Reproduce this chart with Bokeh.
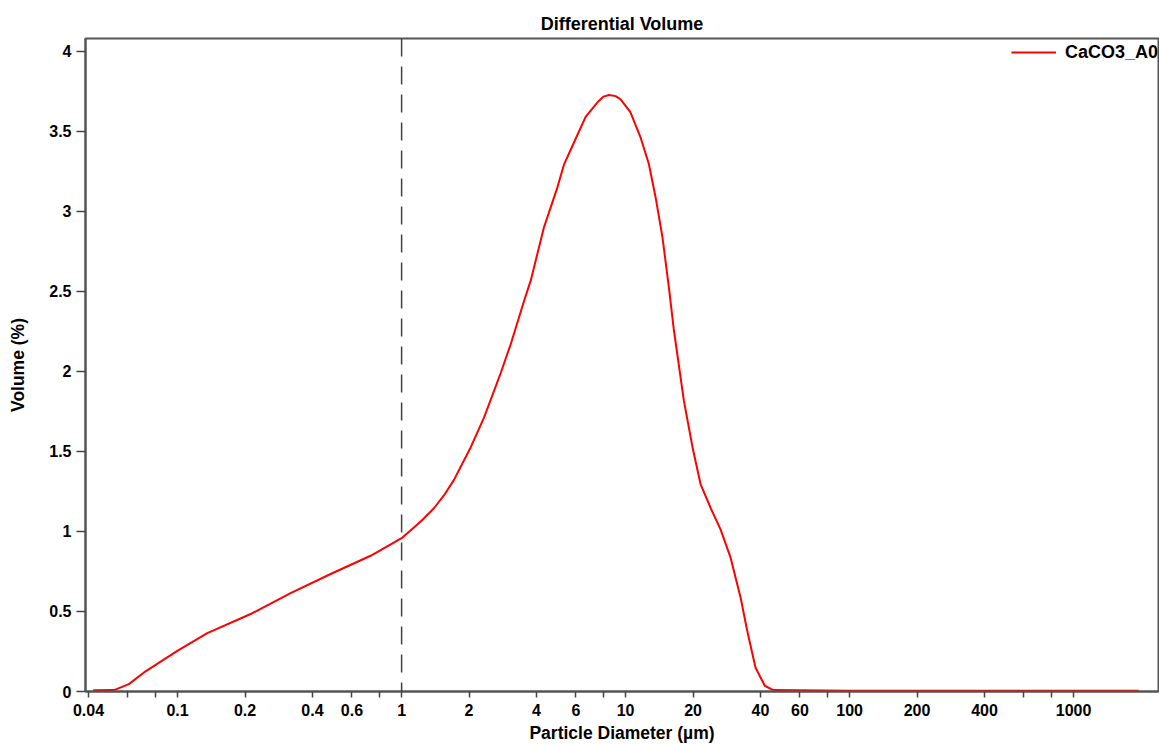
from bokeh.plotting import figure
from bokeh.models import FixedTicker, Span, Legend, LegendItem, Range1d
from bokeh.embed import file_html
from bokeh.resources import INLINE

# Data
diameter_um = [0.042, 0.052, 0.0606, 0.0708, 0.0997, 0.1357, 0.2118, 0.3195, 0.482,
               0.727, 1.0, 1.135, 1.25, 1.394, 1.545, 1.713, 2.033, 2.33, 2.77, 3.07, 3.52,
               3.77, 4.32, 4.96, 5.30, 5.88, 6.63, 7.47, 7.97, 8.43, 9.03, 9.5, 10.5, 11.67,
               12.7, 13.6, 14.6, 15.6, 16.4, 18.2, 19.9, 21.6, 23.9, 26.5, 29.4, 32.6, 34.9,
               38.0, 41.8, 45.6, 100.0, 1000.0, 1950.0]
volume_pct = [0.008, 0.009, 0.046, 0.119, 0.254, 0.365, 0.484, 0.615, 0.734,
              0.848, 0.958, 1.025, 1.078, 1.145, 1.225, 1.322, 1.525, 1.71, 1.99, 2.17, 2.44,
              2.567, 2.9, 3.15, 3.29, 3.43, 3.59, 3.68, 3.717, 3.727, 3.72, 3.70, 3.62, 3.46,
              3.296, 3.09, 2.84, 2.525, 2.265, 1.817, 1.525, 1.296, 1.15, 1.015, 0.8375, 0.5875,
              0.38, 0.15, 0.036, 0.009, 0.005, 0.005, 0.005]
series_name = "CaCO3_A0"

x_ticks = [0.04, 0.06, 0.08, 0.1, 0.2, 0.4, 0.6, 0.8, 1, 2, 4, 6, 8, 10, 20, 40, 60, 80,
           100, 200, 400, 600, 800, 1000]
x_tick_labels = ["0.04", "", "", "0.1", "0.2", "0.4", "0.6", "", "1", "2", "4", "6", "",
                 "10", "20", "40", "60", "", "100", "200", "400", "", "", "1000"]
y_ticks = [0, 0.5, 1, 1.5, 2, 2.5, 3, 3.5, 4]
y_tick_labels = ["0", "0.5", "1", "1.5", "2", "2.5", "3", "3.5", "4"]
marker_x = 1.0

FONT = "Liberation Sans"

p = figure(width=1159, height=745, x_axis_type="log",
           x_range=Range1d(0.0388, 2393), y_range=Range1d(0, 4.08),
           output_backend="svg", toolbar_location=None,
           title="Differential Volume",
           min_border_left=85, min_border_right=1, min_border_top=38, min_border_bottom=54)

p.title.align = "center"
p.title.text_font = FONT
p.title.text_font_size = "18px"
p.title.text_font_style = "bold"
p.title.text_color = "black"
p.title.standoff = 10

p.xgrid.visible = False
p.ygrid.visible = False
p.outline_line_color = "#555555"
p.outline_line_width = 2

for ax in (p.xaxis[0], p.yaxis[0]):
    ax.axis_line_color = "#555555"
    ax.axis_line_width = 2
    ax.major_tick_line_color = "#444444"
    ax.major_tick_line_width = 1.5
    ax.major_tick_in = 0
    ax.minor_tick_line_color = None
    ax.major_label_text_font = FONT
    ax.major_label_text_font_size = "16px"
    ax.major_label_text_font_style = "bold"
    ax.major_label_text_color = "black"
    ax.axis_label_text_font = FONT
    ax.axis_label_text_font_size = "17.5px"
    ax.axis_label_text_font_style = "bold"
    ax.axis_label_text_color = "black"

p.xaxis.ticker = FixedTicker(ticks=x_ticks)
p.xaxis.major_label_overrides = {t: lab for t, lab in zip(x_ticks, x_tick_labels)}
p.xaxis.major_tick_out = 6
p.xaxis.major_label_standoff = 6
p.xaxis.axis_label = "Particle Diameter (µm)"
p.xaxis.axis_label_standoff = 4

p.yaxis.ticker = FixedTicker(ticks=y_ticks)
p.yaxis.major_label_overrides = {t: lab for t, lab in zip(y_ticks, y_tick_labels)}
p.yaxis.major_tick_out = 9
p.yaxis.major_label_standoff = 5
p.yaxis.axis_label = "Volume (%)"
p.yaxis.axis_label_standoff = 18

vline = Span(location=marker_x, dimension="height", line_color="#404040",
             line_width=1.5, line_dash="18 10")
p.add_layout(vline)

r = p.line(diameter_um, volume_pct, line_color="#ff0000", line_width=2)

legend = Legend(items=[LegendItem(label=series_name, renderers=[r])],
                location="top_right", border_line_color=None,
                background_fill_alpha=0, margin=0, padding=0,
                glyph_width=45, glyph_height=28, label_height=28,
                label_standoff=9, label_text_font=FONT,
                label_text_font_size="18px", label_text_font_style="bold",
                label_text_color="black")
p.add_layout(legend)

open("out.html", "w").write(file_html(p, INLINE))
